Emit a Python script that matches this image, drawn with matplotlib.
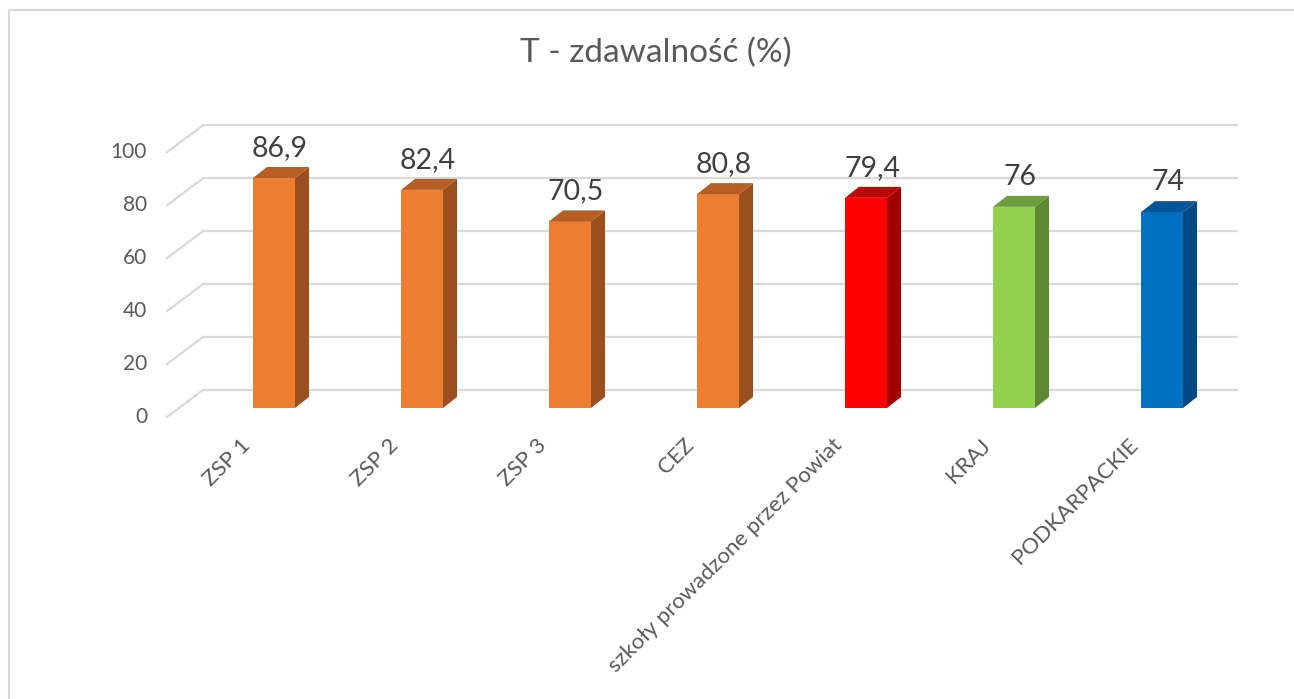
import matplotlib
matplotlib.use("Agg")
import matplotlib.pyplot as plt
from matplotlib.patches import Polygon
from matplotlib.lines import Line2D

# data
categories = ["ZSP 1", "ZSP 2", "ZSP 3", "CEZ", "szkoły prowadzone przez Powiat", "KRAJ", "PODKARPACKIE"]
values = [86.9, 82.4, 70.5, 80.8, 79.4, 76, 74]
labels = ["86,9", "82,4", "70,5", "80,8", "79,4", "76", "74"]
yticks = [0, 20, 40, 60, 80, 100]

# front / top / side colours per bar
front_c = ["#ED7D31", "#ED7D31", "#ED7D31", "#ED7D31", "#FF0000", "#92D050", "#0070C0"]
top_c = ["#B65E24", "#B65E24", "#B65E24", "#B65E24", "#C40000", "#6F9C3D", "#00569A"]
side_c = ["#9B4F1D", "#9B4F1D", "#9B4F1D", "#9B4F1D", "#A30000", "#5F8832", "#004A82"]

plt.rcParams['font.family'] = ['Lato', 'DejaVu Sans']
TXT = "#595959"
GRID = "#D9D9D9"

W, H = 1294, 699
fig = plt.figure(figsize=(W / 100, H / 100), dpi=100)
ax = fig.add_axes([0, 0, 1, 1])
ax.set_axis_off()

# pixel layout of the pseudo-3D scene
X0, DX = 274.0, 148.0      # first bar centre, spacing (px)
Y0, SY = 408.0, 2.647      # zero line of bar plane, px per unit
ax.set_xlim((0 - X0) / DX, (W - X0) / DX)
ax.set_ylim((Y0 - H) / SY, Y0 / SY)

def ux(px):
    return px / DX

def uy(px):
    return px / SY

# back wall grid and left-side diagonals
back_dx, back_dy = ux(24), uy(18)
front_dx, front_dy = ux(-12), uy(-9)
left = (179 - X0) / DX
right_back = (1238 - X0) / DX
for t in yticks:
    ax.plot([left + back_dx, right_back], [t + back_dy, t + back_dy],
            color=GRID, lw=1.6, solid_capstyle='butt', zorder=1)
    ax.plot([left + front_dx, left + back_dx], [t + front_dy, t + back_dy],
            color=GRID, lw=1.6, zorder=1)
    ax.text((147 - X0) / DX, t + front_dy, str(t), ha='right', va='center',
            fontsize=15, color=TXT)

# bars with depth
hw = ux(21)
dd_x, dd_y = ux(14), uy(11)
xs = list(range(len(values)))
ax.bar(xs, values, width=2 * hw, color=front_c, zorder=3, linewidth=0)
for i, v in enumerate(values):
    side = [(i + hw, 0), (i + hw + dd_x, dd_y), (i + hw + dd_x, v + dd_y), (i + hw, v)]
    top = [(i - hw, v), (i - hw + dd_x, v + dd_y), (i + hw + dd_x, v + dd_y), (i + hw, v)]
    ax.add_patch(Polygon(side, closed=True, facecolor=side_c[i], edgecolor='none', zorder=3))
    ax.add_patch(Polygon(top, closed=True, facecolor=top_c[i], edgecolor='none', zorder=3))
    ax.text(i + ux(6), v + uy(30), labels[i], ha='center', va='center',
            fontsize=20.5, color="#404040", zorder=4)
    ax.text(i - ux(27), uy(-34), categories[i], rotation=45, rotation_mode='anchor',
            ha='right', va='center', fontsize=16, color=TXT)

# title
fig.text(656 / W, 1 - 53 / H, "T - zdawalność (%)", ha='center', va='center',
         fontsize=24, color=TXT)

# chart frame (open at right and bottom)
fig.add_artist(Line2D([9 / W, 9 / W], [0, 1 - 10 / H], transform=fig.transFigure,
                      color=GRID, lw=1.5))
fig.add_artist(Line2D([9 / W, 1], [1 - 10 / H, 1 - 10 / H], transform=fig.transFigure,
                      color=GRID, lw=1.5))

fig.savefig("out.png", dpi=100, facecolor='white')
